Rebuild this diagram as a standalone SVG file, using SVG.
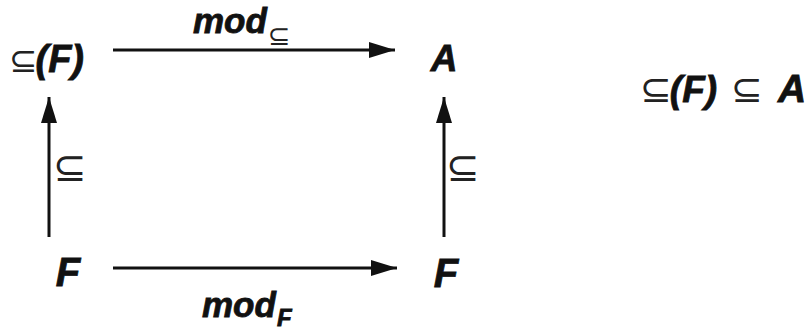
<svg xmlns="http://www.w3.org/2000/svg" width="807" height="331" viewBox="0 0 807 331">
<style>
.b{font-family:"Liberation Sans",Arial,sans-serif;font-weight:bold;font-style:italic;fill:#111;stroke:#111;stroke-width:0.8}
.s{font-family:"DejaVu Sans",sans-serif;font-weight:normal;font-style:normal;fill:#222;stroke:none}
.ln{stroke:#111;stroke-width:3;fill:none}
</style>
<defs>
<marker id="ah" markerUnits="userSpaceOnUse" markerWidth="27" markerHeight="16" refX="26" refY="8" orient="auto">
<path d="M0,0 L26,8 L0,16 Z" fill="#111"/>
</marker>
</defs>
<rect width="807" height="331" fill="#fff"/>
<g id="connectors">
<line class="ln" x1="113" y1="50" x2="395" y2="50" marker-end="url(#ah)"/>
<line class="ln" x1="113" y1="268" x2="397" y2="268" marker-end="url(#ah)"/>
<line class="ln" x1="49" y1="237" x2="49" y2="97" marker-end="url(#ah)"/>
<line class="ln" x1="444" y1="237" x2="444" y2="97" marker-end="url(#ah)"/>
<text class="b" x="193" y="33" font-size="35">mod<tspan class="s" font-size="27" dx="1" dy="12">⊆</tspan></text>
<text class="b" x="202" y="317" font-size="35">mod<tspan font-size="24" dx="1" dy="9">F</tspan></text>
<text class="s" x="53" y="181" font-size="40">⊆</text>
<text class="s" x="446" y="181" font-size="40">⊆</text>
</g>
<g id="node-subF">
<text class="b" x="9" y="72" font-size="38"><tspan class="s" font-size="34">⊆</tspan><tspan dx="-2">(F)</tspan></text>
</g>
<g id="node-A">
<text class="b" x="444" y="71" font-size="37" text-anchor="middle">A</text>
</g>
<g id="node-F-left">
<text class="b" x="68" y="286" font-size="40" text-anchor="middle">F</text>
</g>
<g id="node-F-right">
<text class="b" x="446" y="287" font-size="40" text-anchor="middle">F</text>
</g>
<g id="formula">
<text class="b" x="640" y="102" font-size="37"><tspan class="s" font-size="38">⊆</tspan><tspan dx="-2">(F)</tspan><tspan class="s" font-size="38" dx="14">⊆</tspan><tspan dx="15" font-size="39">A</tspan></text>
</g>
</svg>
